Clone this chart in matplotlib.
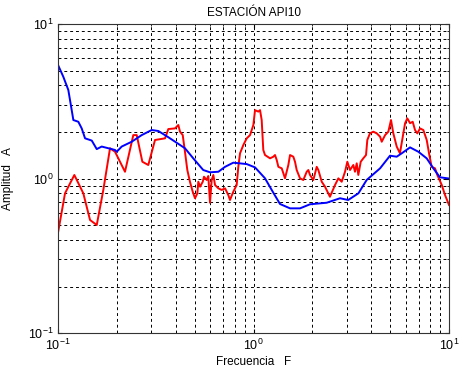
import matplotlib
matplotlib.use("Agg")
import matplotlib.pyplot as plt
from matplotlib.ticker import LogLocator, NullFormatter

plt.rcParams["font.family"] = ["Liberation Sans", "DejaVu Sans"]

# smoothed spectrum (blue)
blue_f = [0.100, 0.1064, 0.1129, 0.1175, 0.1198, 0.1270, 0.1322, 0.1375, 0.1488, 0.1578,
          0.1673, 0.1808, 0.1957, 0.1997, 0.2117, 0.2382, 0.268, 0.3015, 0.326, 0.3666,
          0.446, 0.492, 0.553, 0.599, 0.661, 0.715, 0.788, 0.923, 1.018, 1.145,
          1.239, 1.366, 1.537, 1.729, 1.945, 2.368, 2.77, 3.05, 3.44, 3.79,
          4.44, 4.99, 5.40, 5.73, 6.32, 6.97, 7.69, 8.31, 8.99, 10.0]
blue_a = [5.43, 4.56, 3.74, 2.77, 2.39, 2.33, 2.11, 1.82, 1.76, 1.55,
          1.61, 1.57, 1.53, 1.49, 1.61, 1.73, 1.91, 2.06, 2.03, 1.85,
          1.57, 1.35, 1.135, 1.097, 1.106, 1.19, 1.266, 1.24, 1.18, 1.003,
          0.843, 0.684, 0.641, 0.641, 0.681, 0.697, 0.745, 0.726, 0.802, 0.978,
          1.164, 1.405, 1.384, 1.456, 1.59, 1.49, 1.35, 1.164, 1.018, 1.0]

# H/V ratio (red)
red_f = [0.100, 0.1086, 0.1212, 0.1347, 0.1458, 0.1578, 0.1705, 0.1845, 0.1957, 0.2201,
         0.2427, 0.2527, 0.270, 0.2896, 0.3134, 0.3527, 0.3666, 0.3967, 0.4124,
         0.4207, 0.4344, 0.446, 0.4586, 0.473, 0.4887, 0.502, 0.516, 0.522, 0.5326,
         0.550, 0.558, 0.576, 0.587, 0.599, 0.611, 0.623, 0.6356, 0.661, 0.6875,
         0.715, 0.743, 0.758, 0.788, 0.820, 0.836, 0.853, 0.887, 0.923, 0.960,
         0.998, 1.018, 1.058, 1.08, 1.101, 1.122, 1.145, 1.215, 1.263, 1.288,
         1.314, 1.34, 1.394, 1.449, 1.507, 1.537, 1.598, 1.63, 1.663, 1.729,
         1.798, 1.871, 1.907, 1.945, 2.023, 2.105, 2.146, 2.233, 2.321,
         2.46, 2.612, 2.716, 2.825, 2.938, 3.019, 3.116, 3.239, 3.304, 3.372,
         3.436, 3.535, 3.644, 3.762, 3.82, 3.94, 4.10, 4.268, 4.44, 4.527,
         4.71, 4.893, 5.05, 5.19, 5.40, 5.61, 5.80, 5.96, 6.12, 6.32,
         6.52, 6.70, 6.885, 7.11, 7.39, 7.69, 7.93, 8.15, 8.48, 8.71,
         9.18, 9.54, 10.0]
red_a = [0.446, 0.802, 1.054, 0.802, 0.539, 0.50, 0.843, 1.57, 1.49, 1.106,
         1.91, 1.91, 1.284, 1.223, 1.775, 1.82, 2.09, 2.11, 2.22,
         2.01, 1.91, 1.49, 1.135, 0.953, 0.821, 0.745, 0.802, 0.953, 0.885,
         0.953, 1.027, 0.978, 1.038, 0.697, 0.978, 1.054, 0.908, 0.864, 0.843,
         0.864, 0.782, 0.726, 0.821, 0.908, 1.19, 1.456, 1.647, 1.82, 1.91,
         2.22, 2.77, 2.71, 2.77, 2.39, 1.53, 1.419, 1.351, 1.384, 1.419,
         1.318, 1.19, 1.164, 1.003, 1.223, 1.419, 1.384, 1.284, 1.135, 1.003,
         0.978, 1.106, 1.135, 1.054, 0.978, 1.19, 1.135, 0.953, 0.885,
         0.762, 0.908, 1.003, 0.953, 1.106, 1.284, 1.135, 1.223, 1.106, 1.254,
         1.054, 1.284, 1.351, 1.419, 1.775, 1.96, 2.01, 1.96, 1.865, 1.73,
         1.91, 2.01, 2.39, 1.96, 1.61, 1.456, 1.865, 2.28, 2.45, 2.28,
         2.33, 2.06, 1.96, 2.11, 2.06, 1.775, 1.419, 1.19, 1.164, 1.054,
         0.908, 0.782, 0.674]

fig = plt.figure(figsize=(4.69, 3.78), dpi=100)
ax = fig.add_axes([0.1237, 0.119, 0.8337, 0.8175])
ax.plot(red_f, red_a, color="#ff0000", lw=1.4)
ax.plot(blue_f, blue_a, color="#0000ff", lw=1.4)
ax.set_xscale("log"); ax.set_yscale("log")
ax.set_xlim(0.1, 10); ax.set_ylim(0.1, 10)
ax.xaxis.set_major_locator(LogLocator(base=10, numticks=5))
ax.yaxis.set_major_locator(LogLocator(base=10, numticks=5))
ax.xaxis.set_minor_locator(LogLocator(base=10, subs=range(2, 10), numticks=20))
ax.yaxis.set_minor_locator(LogLocator(base=10, subs=range(2, 10), numticks=20))
ax.xaxis.set_minor_formatter(NullFormatter()); ax.yaxis.set_minor_formatter(NullFormatter())
ax.grid(True, which="both", ls=(0, (3, 3)), color="black", lw=0.7)
ax.tick_params(which="both", direction="in", labelsize=9, top=True, right=True, length=3)
ax.tick_params(which="minor", length=1.5)
for s in ax.spines.values():
    s.set_linewidth(0.8); s.set_color("#333333")
ax.set_title("ESTACIÓN API10", fontsize=8.5, pad=6)
ax.set_xlabel("Frecuencia   F", fontsize=8.5, labelpad=2)
ax.set_ylabel("Amplitud   A", fontsize=8.5, labelpad=10)
fig.savefig("out.png", dpi=100)
